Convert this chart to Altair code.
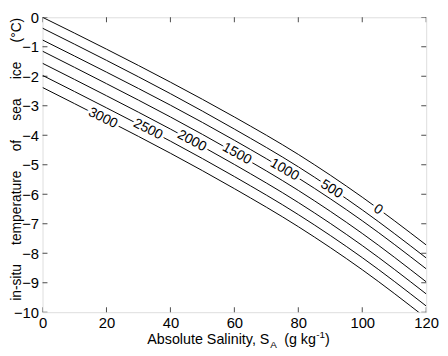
import altair as alt
import pandas as pd

FONT = "Liberation Sans"

# ---- data ----
salinity = [0, 20, 40, 60, 80, 100, 120]
pressure_labels = ["0", "500", "1000", "1500", "2000", "2500", "3000"]
t_p0 = [0.00, -1.08, -2.20, -3.38, -4.65, -6.10, -7.72]
t_p500 = [-0.37, -1.46, -2.59, -3.79, -5.07, -6.53, -8.16]
t_p1000 = [-0.77, -1.86, -2.98, -4.17, -5.45, -6.90, -8.53]
t_p1500 = [-1.15, -2.25, -3.38, -4.58, -5.87, -7.33, -8.97]
t_p2000 = [-1.56, -2.66, -3.79, -4.99, -6.28, -7.74, -9.38]
t_p2500 = [-1.97, -3.07, -4.20, -5.40, -6.69, -8.15, -9.79]
t_p3000 = [-2.38, -3.48, -4.61, -5.81, -7.10, -8.56, -10.20]

label_text = ["3000", "2500", "2000", "1500", "1000", "500", "0"]
label_s = [18.9, 33.0, 46.7, 60.8, 75.7, 90.4, 105.0]
label_t = [-3.42, -3.80, -4.19, -4.63, -5.17, -5.83, -6.52]
label_angle = [26, 27, 28, 29, 30, 32, 34]

x_ticks = [0, 20, 40, 60, 80, 100, 120]
y_ticks = [-10, -9, -8, -7, -6, -5, -4, -3, -2, -1, 0]

NB = "\u00a0\u00a0\u00a0\u00a0 "
y_title = NB.join(["in-situ", "temperature", "of", "sea", "ice", "(°C)"])

# ---- build tables ----
rows = []
series = [t_p0, t_p500, t_p1000, t_p1500, t_p2000, t_p2500, t_p3000]
for name, vals in zip(pressure_labels, series):
    for s, t in zip(salinity, vals):
        rows.append({"S": s, "T": t, "p": name})
lines_df = pd.DataFrame(rows)
labels_df = pd.DataFrame({"S": label_s, "T": label_t, "txt": label_text, "ang": label_angle})

W, H = 389, 299

x_scale = alt.Scale(domain=[0, 120], nice=False, zero=False)
y_scale = alt.Scale(domain=[-10, 0], nice=False, zero=False)

x_axis = alt.Axis(values=x_ticks, ticks=False, domain=False, grid=False, labelFlush=False,
                  labelOverlap=False, labelFontSize=15, labelFont=FONT, labelColor="black",
                  labelPadding=4, title=None, format="d")
y_axis = alt.Axis(values=y_ticks, ticks=False, domain=False, grid=False, labelFlush=False,
                  labelOverlap=False, labelFontSize=15, labelFont=FONT, labelColor="black",
                  labelPadding=4, format="d", title=y_title, titleFont=FONT, titleFontSize=14,
                  titleFontWeight="normal", titleColor="black", titleAngle=-90,
                  titleX=-22, titleY=H / 2 - 6, titleAlign="center", titleBaseline="alphabetic")

X = alt.X("S:Q", scale=x_scale, axis=x_axis)
Y = alt.Y("T:Q", scale=y_scale, axis=y_axis)

lines = alt.Chart(lines_df).mark_line(clip=True, color="black", strokeWidth=1,
                                      interpolate="monotone").encode(x=X, y=Y, detail="p:N")

halo = alt.Chart(labels_df).mark_text(font=FONT, fontSize=14, stroke="white", strokeWidth=6,
                                      strokeJoin="round", fill="white", align="center",
                                      baseline="middle").encode(
    x=X, y=Y, text="txt:N", angle=alt.Angle("ang:Q", scale=None))
labels = alt.Chart(labels_df).mark_text(font=FONT, fontSize=14, color="black", align="center",
                                        baseline="middle").encode(
    x=X, y=Y, text="txt:N", angle=alt.Angle("ang:Q", scale=None))

xt_df = pd.DataFrame({"S": x_ticks})
yt_df = pd.DataFrame({"T": y_ticks})
tick_kw = dict(size=10, thickness=1, color="black", clip=True)
xt_bottom = alt.Chart(xt_df).mark_tick(orient="vertical", **tick_kw).encode(x=X, y=alt.value(H))
xt_top = alt.Chart(xt_df).mark_tick(orient="vertical", **tick_kw).encode(x=X, y=alt.value(0))
yt_left = alt.Chart(yt_df).mark_tick(orient="horizontal", **tick_kw).encode(y=Y, x=alt.value(0))
yt_right = alt.Chart(yt_df).mark_tick(orient="horizontal", **tick_kw).encode(y=Y, x=alt.value(W))

# ---- x title with subscript / superscript pieces ----
def piece(txt, x, y, size, align="left"):
    return alt.Chart(pd.DataFrame({"t": [txt]})).mark_text(
        font=FONT, fontSize=size, color="black", align=align, baseline="alphabetic").encode(
        x=alt.value(x), y=alt.value(y), text="t:N")

xt_main = piece("Absolute Salinity, S", 230, 331, 14.5, "right")
xt_sub = piece("A", 231, 335, 10)
xt_unit = piece("(g kg", 245, 331, 14.5)
xt_sup = piece("-1", 277.5, 325, 10)
xt_close = piece(")", 286.5, 331, 14.5)

chart = alt.layer(
    lines, halo, labels, xt_bottom, xt_top, yt_left, yt_right,
    xt_main, xt_sub, xt_unit, xt_sup, xt_close,
).properties(
    width=W, height=H,
    padding={"left": 35, "top": 7, "right": 14, "bottom": 42},
    autosize=alt.AutoSizeParams(type="none"),
).configure_view(stroke="black", strokeWidth=1).configure(background="white")

chart.save("out.html", embed_options={"renderer": "svg", "actions": False})
